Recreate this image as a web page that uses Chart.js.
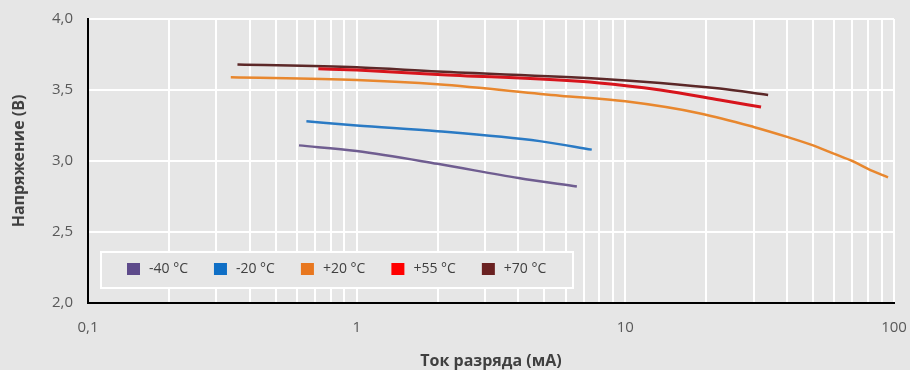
<!DOCTYPE html>
<html>
<head>
<meta charset="utf-8">
<script src="https://cdn.jsdelivr.net/npm/chart.js@4"></script>
<style>
  html, body { margin: 0; padding: 0; background: #e6e6e6; }
  #wrap { width: 910px; height: 370px; }
</style>
</head>
<body>
<div id="wrap"><canvas id="myChart" width="910" height="370"></canvas></div>
<script>
// discharge current (mA) / voltage (V) per temperature
const seriesNames = ['-40 °C', '-20 °C', '+20 °C', '+55 °C', '+70 °C'];

const currentM40 = [0.61, 1.0, 2.0, 4.0, 6.6];
const voltageM40 = [3.11, 3.07, 2.98, 2.88, 2.82];

const currentM20 = [0.65, 1.0, 2.0, 4.8, 7.5];
const voltageM20 = [3.28, 3.25, 3.21, 3.14, 3.08];

const currentP20 = [0.34, 1.0, 2.0, 5.7, 10, 19, 30, 40, 50, 60, 70, 80, 95];
const voltageP20 = [3.59, 3.57, 3.54, 3.46, 3.42, 3.335, 3.24, 3.17, 3.11, 3.05, 3.00, 2.945, 2.885];

const currentP55 = [0.72, 1.0, 2.0, 8.0, 13.5, 22.5, 32];
const voltageP55 = [3.65, 3.64, 3.61, 3.55, 3.50, 3.43, 3.38];

const currentP70 = [0.36, 1.0, 2.0, 8.0, 13.5, 22.5, 34];
const voltageP70 = [3.68, 3.66, 3.63, 3.58, 3.55, 3.51, 3.465];

const lineColors = ['#6f5d90', '#2a7ac4', '#e8872e', '#d7141c', '#5c2828'];
const markerColors = ['#5e4b8b', '#0f6fc6', '#e8771f', '#ff0000', '#6a2121'];

const xMajorTicks = [0.1, 1, 10, 100];
const xTickLabels = ['0,1', '1', '10', '100'];
const yTickLabels = ['2,0', '2,5', '3,0', '3,5', '4,0'];

function pairs(xs, ys) {
  return xs.map((x, i) => ({ x: x, y: ys[i] }));
}

const allSeries = [
  pairs(currentM40, voltageM40),
  pairs(currentM20, voltageM20),
  pairs(currentP20, voltageP20),
  pairs(currentP55, voltageP55),
  pairs(currentP70, voltageP70)
];

// gridlines at every 1..9 step of each decade
const xGridTicks = [];
for (let d = 0; d < xMajorTicks.length - 1; d++) {
  for (let m = 1; m <= 9; m++) {
    xGridTicks.push(+(xMajorTicks[d] * m).toPrecision(3));
  }
}
xGridTicks.push(xMajorTicks[xMajorTicks.length - 1]);

const datasets = allSeries.map((pts, i) => ({
  label: seriesNames[i],
  data: pts,
  borderColor: lineColors[i],
  legendColor: markerColors[i],
  borderWidth: i === 3 ? 3 : 2.5,
  pointRadius: 0,
  fill: false,
  cubicInterpolationMode: 'monotone'
}));

// legend box inside the plot, bottom-left
const insideLegend = {
  id: 'insideLegend',
  afterDraw(chart) {
    const ctx = chart.ctx;
    const area = chart.chartArea;
    const bx = area.left + 13, by = area.bottom - 51, bw = 472, bh = 36;
    ctx.save();
    ctx.fillStyle = '#e6e6e6';
    ctx.fillRect(bx, by, bw, bh);
    ctx.strokeStyle = '#ffffff';
    ctx.lineWidth = 2;
    ctx.strokeRect(bx, by, bw, bh);
    ctx.font = '14px "Open Sans"';
    ctx.textBaseline = 'middle';
    let x = bx + 26;
    const cy = by + 17;
    chart.data.datasets.forEach((ds) => {
      ctx.fillStyle = ds.legendColor;
      ctx.fillRect(x, cy - 6, 13, 12);
      ctx.fillStyle = '#404040';
      ctx.fillText(ds.label, x + 22, cy);
      x += 22 + ctx.measureText(ds.label).width + 26;
    });
    ctx.restore();
  }
};

const ctx = document.getElementById('myChart').getContext('2d');
const myChart = new Chart(ctx, {
  type: 'line',
  data: { datasets: datasets },
  plugins: [insideLegend],
  options: {
    responsive: false,
    animation: false,
    layout: { padding: { left: 0, top: 19, right: 16, bottom: 0 } },
    plugins: {
      legend: { display: false },
      tooltip: { enabled: false }
    },
    scales: {
      x: {
        type: 'logarithmic',
        min: 0.1,
        max: 100,
        afterBuildTicks: (scale) => {
          scale.ticks = xGridTicks.map(v => ({ value: v }));
        },
        afterFit: (scale) => {
          scale.height = 67;
          scale.paddingLeft = 0;
          scale.paddingRight = 0;
        },
        grid: { color: '#ffffff', lineWidth: 2, drawTicks: false },
        border: { color: '#000000', width: 2 },
        ticks: {
          autoSkip: false,
          maxRotation: 0,
          padding: 16,
          color: '#595959',
          font: { family: 'Open Sans', size: 15 },
          callback: (value) => {
            const k = xMajorTicks.indexOf(value);
            return k >= 0 ? xTickLabels[k] : '';
          }
        },
        title: {
          display: true,
          text: 'Ток разряда (мА)',
          color: '#404040',
          font: { family: 'Open Sans', size: 16, weight: 'bold' },
          padding: { top: 0, bottom: -1 }
        }
      },
      y: {
        min: 2,
        max: 4,
        afterFit: (scale) => {
          scale.width = 88;
          scale.paddingTop = 0;
          scale.paddingBottom = 0;
        },
        grid: { color: '#ffffff', lineWidth: 2, drawTicks: false },
        border: { color: '#000000', width: 2 },
        ticks: {
          stepSize: 0.5,
          padding: 15,
          color: '#595959',
          font: { family: 'Open Sans', size: 15 },
          callback: (value, index) => yTickLabels[index]
        },
        title: {
          display: true,
          text: 'Напряжение (В)',
          color: '#404040',
          font: { family: 'Open Sans', size: 16, weight: 'bold' },
          padding: { top: 10, bottom: 0 }
        }
      }
    }
  }
});
</script>
</body>
</html>
